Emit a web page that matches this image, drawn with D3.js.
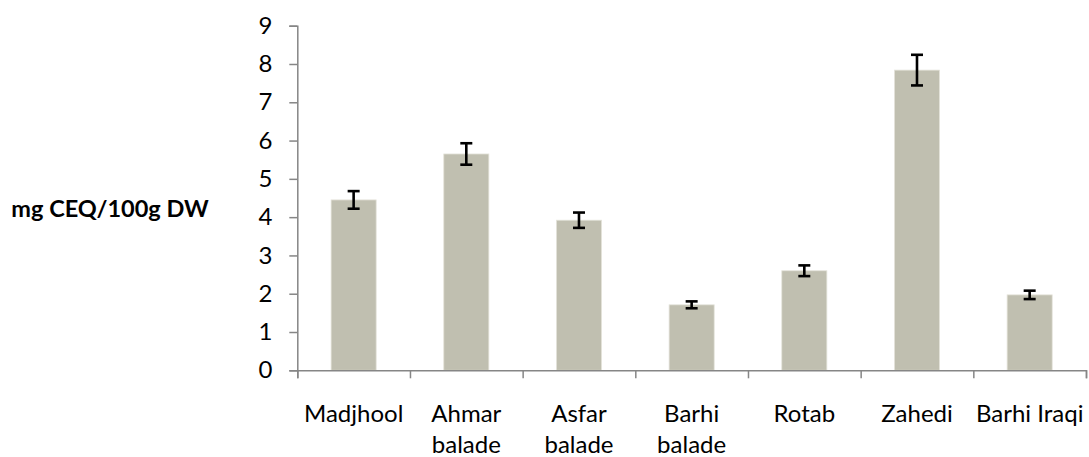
<!DOCTYPE html>
<html>
<head>
<meta charset="utf-8">
<script src="https://cdn.jsdelivr.net/npm/d3@7"></script>
<style>
  html, body { margin: 0; padding: 0; background: #fff; }
  svg { display: block; }
  text { font-family: Lato, "Open Sans", sans-serif; fill: #000; }
</style>
</head>
<body>
<svg id="chart" width="1089" height="457"></svg>
<script>
// Date cultivars (labels wrap onto a second line where "\n" appears)
const categories = ["Madjhool", "Ahmar\nbalade", "Asfar\nbalade", "Barhi\nbalade", "Rotab", "Zahedi", "Barhi Iraqi"];
// Mean content, mg CEQ/100g DW
const values = [4.45, 5.65, 3.92, 1.71, 2.60, 7.84, 1.97];
// Standard deviation shown as error bars
const errors = [0.23, 0.28, 0.20, 0.09, 0.14, 0.40, 0.11];
const yTicks = [0, 1, 2, 3, 4, 5, 6, 7, 8, 9];
const yTitle = "mg CEQ/100g DW";

const svg = d3.select("#chart");
const plot = { left: 297.3, right: 1086, top: 25.7, bottom: 370.3 };
const axisColor = "#868686";

const y = d3.scaleLinear().domain([0, 9]).range([plot.bottom, plot.top]);
const x = d3.scaleBand().domain(categories).range([plot.left, plot.right]).padding(0);
const idx = d3.scaleLinear().domain([0, categories.length]).range([plot.left, plot.right]);
const barW = x.bandwidth() * 0.4;

// Bars
svg.append("g").selectAll("rect")
  .data(categories)
  .join("rect")
  .attr("x", d => x(d) + (x.bandwidth() - barW) / 2)
  .attr("width", barW)
  .attr("y", (d, i) => y(values[i]))
  .attr("height", (d, i) => y(0) - y(values[i]))
  .attr("fill", "#c0bfb0")
  .attr("stroke", "#e4e3da")
  .attr("stroke-width", 0.8);

// Error bars
const eb = svg.append("g").attr("stroke", "#000").attr("stroke-width", 2.6);
categories.forEach((c, i) => {
  const cx = x(c) + x.bandwidth() / 2;
  const y1 = y(values[i] + errors[i]), y0 = y(values[i] - errors[i]);
  eb.append("line").attr("x1", cx).attr("x2", cx).attr("y1", y1).attr("y2", y0);
  eb.append("line").attr("x1", cx - 6).attr("x2", cx + 6).attr("y1", y1).attr("y2", y1);
  eb.append("line").attr("x1", cx - 6).attr("x2", cx + 6).attr("y1", y0).attr("y2", y0);
});

// Y axis
const gy = svg.append("g")
  .attr("transform", `translate(${plot.left},0)`)
  .call(d3.axisLeft(y).tickValues(yTicks).tickSize(8).tickPadding(17).tickFormat(d3.format("d")));
gy.select(".domain").attr("stroke", axisColor).attr("stroke-width", 1.5);
gy.selectAll(".tick line").attr("stroke", axisColor).attr("stroke-width", 1.5);
gy.selectAll(".tick text").attr("font-size", 24).attr("font-family", "Lato, sans-serif").attr("fill", "#000");

// X axis: ticks at the category boundaries
const gx = svg.append("g")
  .attr("transform", `translate(0,${plot.bottom})`)
  .call(d3.axisBottom(idx).tickValues(d3.range(categories.length + 1)).tickSize(8).tickFormat(""));
gx.select(".domain").attr("stroke", axisColor).attr("stroke-width", 1.5);
gx.selectAll(".tick line").attr("stroke", axisColor).attr("stroke-width", 1.5);

// Category labels
const lab = svg.append("g").attr("font-size", 24).attr("text-anchor", "middle");
categories.forEach(c => {
  const cx = x(c) + x.bandwidth() / 2;
  const t = lab.append("text").attr("x", cx).attr("y", 421.5);
  c.split("\n").forEach((line, k) => {
    t.append("tspan").attr("x", cx).attr("dy", k === 0 ? 0 : 31.5).text(line);
  });
});

// Y axis title
svg.append("text")
  .attr("x", 110).attr("y", 217)
  .attr("text-anchor", "middle")
  .attr("font-size", 23.5)
  .attr("font-weight", "bold")
  .text(yTitle);
</script>
</body>
</html>
